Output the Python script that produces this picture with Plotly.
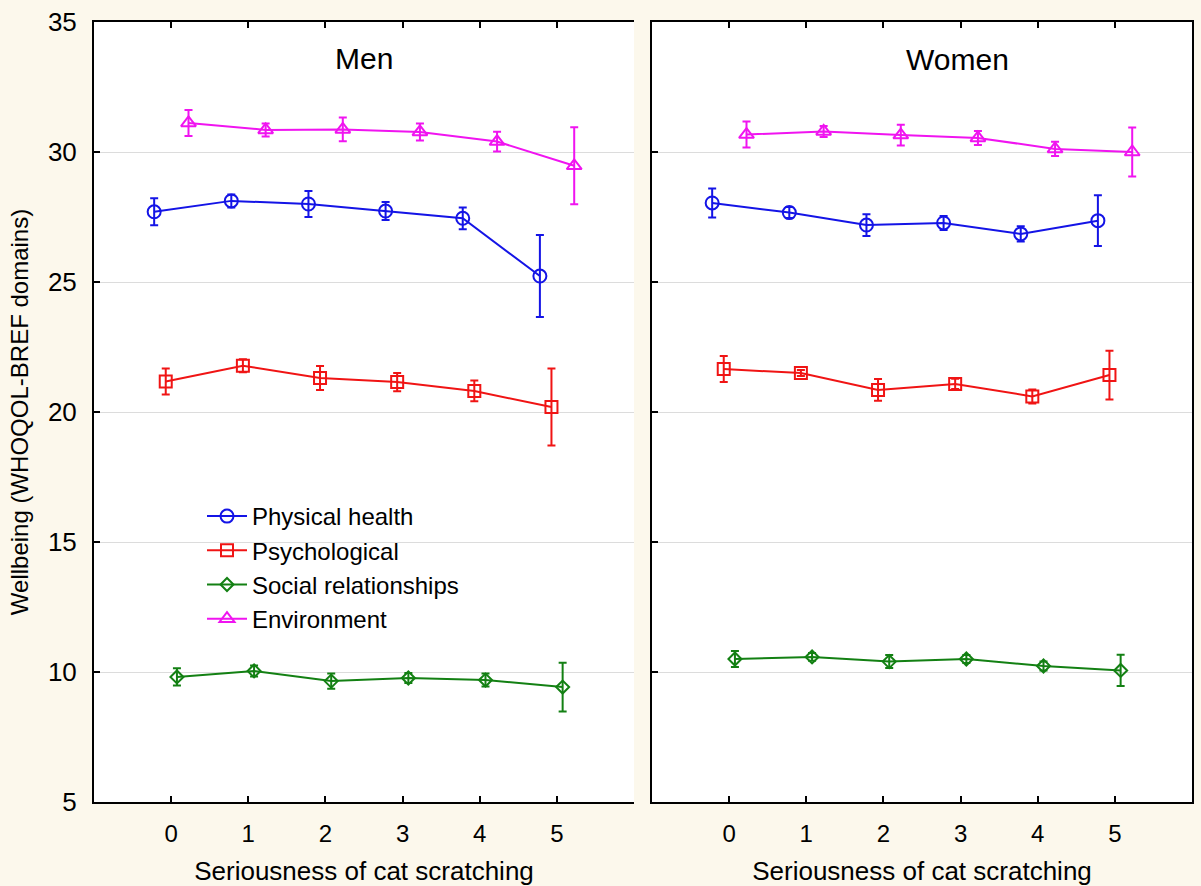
import plotly.graph_objects as go

# Seriousness of cat scratching (0 = none ... 5 = most serious)
scratch_levels = [0, 1, 2, 3, 4, 5]
tick_labels = ["0", "1", "2", "3", "4", "5"]
y_ticks = [5, 10, 15, 20, 25, 30, 35]

domains = ["Physical health", "Psychological", "Social relationships", "Environment"]

# Men: means and error-bar half-widths
men_physical = [27.70, 28.12, 28.00, 27.73, 27.45, 25.23]
men_physical_err = [0.52, 0.25, 0.50, 0.35, 0.42, 1.58]
men_psych = [21.17, 21.78, 21.31, 21.15, 20.81, 20.19]
men_psych_err = [0.50, 0.25, 0.46, 0.35, 0.40, 1.48]
men_social = [9.81, 10.04, 9.65, 9.77, 9.69, 9.42]
men_social_err = [0.33, 0.21, 0.29, 0.19, 0.25, 0.94]
men_env = [31.12, 30.85, 30.87, 30.77, 30.40, 29.47]
men_env_err = [0.50, 0.25, 0.46, 0.33, 0.38, 1.48]

# Women: means and error-bar half-widths
women_physical = [28.04, 27.67, 27.19, 27.27, 26.85, 27.36]
women_physical_err = [0.56, 0.21, 0.42, 0.27, 0.29, 0.98]
women_psych = [21.65, 21.50, 20.85, 21.08, 20.60, 21.42]
women_psych_err = [0.50, 0.12, 0.42, 0.20, 0.27, 0.94]
women_social = [10.50, 10.58, 10.40, 10.50, 10.23, 10.06]
women_social_err = [0.31, 0.15, 0.25, 0.15, 0.17, 0.60]
women_env = [30.67, 30.79, 30.65, 30.54, 30.12, 30.00]
women_env_err = [0.50, 0.21, 0.40, 0.27, 0.27, 0.94]

men = [(men_physical, men_physical_err), (men_psych, men_psych_err),
       (men_social, men_social_err), (men_env, men_env_err)]
women = [(women_physical, women_physical_err), (women_psych, women_psych_err),
         (women_social, women_social_err), (women_env, women_env_err)]

colors = ["#1414E6", "#F01414", "#138013", "#F014F0"]
symbols = ["circle-open", "square-open", "diamond-open", "triangle-up-open"]
sizes = [13, 12, 10, 13]
offsets = [-0.22, -0.07, 0.075, 0.225]

FONT = "Liberation Sans, Arial, sans-serif"

fig = go.Figure()

for panel, (xa, ya, data) in enumerate([("x", "y", men), ("x2", "y2", women)]):
    for i, (vals, errs) in enumerate(data):
        fig.add_trace(go.Scatter(
            x=[c + offsets[i] for c in scratch_levels],
            y=vals,
            error_y=dict(type="data", array=errs, visible=True,
                         color=colors[i], thickness=2, width=4),
            mode="lines+markers",
            line=dict(color=colors[i], width=2),
            marker=dict(symbol=symbols[i], size=sizes[i], color=colors[i],
                        line=dict(width=2, color=colors[i])),
            name=domains[i],
            showlegend=(panel == 0),
            xaxis=xa, yaxis=ya,
        ))

y_dom = [1 - 802 / 886, 1 - 22 / 886]
x_common = dict(range=[-1, 6], tickvals=scratch_levels, ticktext=tick_labels,
                ticks="inside", ticklen=6, tickwidth=1.5, tickcolor="black",
                showline=True, linecolor="black", linewidth=2, mirror="ticks",
                showgrid=False, zeroline=False, automargin=False,
                tickfont=dict(family=FONT, size=24, color="black"),
                ticklabelstandoff=9,
                title=dict(text="Seriousness of cat scratching",
                           font=dict(family=FONT, size=26, color="black"),
                           standoff=22))
y_common = dict(range=[5, 35], tickvals=y_ticks, ticks="inside", ticklen=6,
                tickwidth=1.5, tickcolor="black", automargin=False,
                showline=True, linecolor="black", linewidth=2,
                showgrid=True, gridcolor="#DCDCDC", gridwidth=1, zeroline=False,
                tickfont=dict(family=FONT, size=26, color="black"))

fig.update_layout(
    width=1201, height=886,
    margin=dict(l=0, r=0, t=0, b=0),
    paper_bgcolor="#FCF8EC",
    plot_bgcolor="white",
    font=dict(family=FONT, color="black"),
    xaxis=dict(domain=[94 / 1201, 634 / 1201], anchor="y", **x_common),
    xaxis2=dict(domain=[652 / 1201, 1192 / 1201], anchor="y2", **x_common),
    yaxis=dict(domain=y_dom, anchor="x", mirror=False, ticklabelstandoff=10,
               title=dict(text="Wellbeing (WHOQOL-BREF domains)",
                          font=dict(family=FONT, size=24, color="black"),
                          standoff=12),
               **y_common),
    yaxis2=dict(domain=y_dom, anchor="x2", showticklabels=False, mirror=True,
                **{k: v for k, v in y_common.items() if k != "tickfont"}),
    legend=dict(x=202 / 1201, y=1 - 494 / 886, xanchor="left", yanchor="top",
                bgcolor="rgba(0,0,0,0)", borderwidth=0,
                font=dict(family=FONT, size=24, color="black"),
                tracegroupgap=0, itemwidth=40),
    annotations=[
        dict(text="Men", x=364 / 1201, y=1 - 58 / 886, xref="paper", yref="paper",
             xanchor="center", yanchor="middle", showarrow=False,
             font=dict(family=FONT, size=30, color="black")),
        dict(text="Women", x=957 / 1201, y=1 - 60 / 886, xref="paper", yref="paper",
             xanchor="center", yanchor="middle", showarrow=False,
             font=dict(family=FONT, size=30, color="black")),
    ],
)

fig.write_html("out.html")
